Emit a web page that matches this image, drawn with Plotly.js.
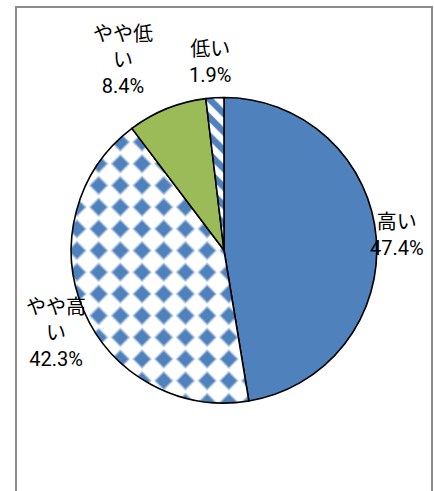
<!DOCTYPE html>
<html><head><meta charset="utf-8">
<script src="https://cdn.plot.ly/plotly-3.0.1.min.js"></script>
<style>html,body{margin:0;padding:0;background:#fff;overflow:hidden}</style>
</head><body><div id="chart" style="width:434px;height:491px"></div>
<script>
// ---- data ----
const categories = ['高い', 'やや高い', 'やや低い', '低い'];
const percentages = [47.4, 42.3, 8.4, 1.9];
const wrappedLabels = ['高い', 'やや高<br>い', 'やや低<br>い', '低い'];

// ---- styles ----
const sliceColors = ['#4F81BD', '#FFFFFF', '#9BBB59', '#FFFFFF'];
const BLUE = '#4F81BD';
const W = 434, H = 491;
const px = x => x / W;
const py = y => 1 - y / H;
// label centres (pixels)
const labelCentres = [[397, 235], [56, 333], [123, 60], [210, 62]];

const annotations = categories.map((c, i) => ({
  xref: 'paper', yref: 'paper',
  x: px(labelCentres[i][0]), y: py(labelCentres[i][1]),
  xanchor: 'center', yanchor: 'middle', align: 'center',
  showarrow: false,
  text: wrappedLabels[i] + '<br>' + percentages[i].toFixed(1) + '%',
  font: {family: "Roboto, 'Noto Sans CJK JP', sans-serif", size: 20, color: '#000'}
}));

const DIAMOND_TILE = 21.7;

const trace = {
  type: 'pie',
  labels: categories,
  values: percentages,
  sort: false,
  direction: 'clockwise',
  rotation: 0,
  textinfo: 'none',
  hoverinfo: 'skip',
  showlegend: false,
  domain: {x: [px(71), px(377)], y: [py(403), py(97.5)]},
  marker: {
    colors: sliceColors,
    line: {color: '#000000', width: 1.6},
    pattern: {
      shape: ['', 'x', '', '\\'],
      fgcolor: [BLUE, '#FFFFFF', '#9BBB59', BLUE],
      bgcolor: [BLUE, BLUE, '#9BBB59', '#FFFFFF'],
      size: [8, 26, 8, 13],
      solidity: [0.2, 0.6, 0.2, 0.5],
      fillmode: 'replace'
    }
  }
};

const layout = {
  width: W, height: H,
  margin: {l: 0, r: 0, t: 0, b: 0},
  paper_bgcolor: '#FFFFFF',
  annotations: annotations,
  shapes: [{
    type: 'rect', xref: 'paper', yref: 'paper', layer: 'below',
    x0: px(16), x1: px(432), y0: -0.1, y1: py(7),
    line: {color: '#8C8C8C', width: 2}, fillcolor: 'rgba(0,0,0,0)'
  }]
};

Plotly.newPlot('chart', [trace], layout, {staticPlot: true, displayModeBar: false}).then(gd => {
  // restyle the diamond pattern tile of the second slice into an aligned "solid diamond" grid
  try {
    const slices = gd.querySelectorAll('g.slice path.surface');
    const s = slices[1];
    if (!s) return;
    const fill = s.style.fill || s.getAttribute('fill') || '';
    const m = fill.match(/#([^"')]+)/);
    if (!m) return;
    const pat = document.getElementById(m[1]);
    if (!pat) return;
    const t = DIAMOND_TILE, c = t / 2, r = 8.8;
    pat.setAttribute('width', t + 'px');
    pat.setAttribute('height', t + 'px');
    pat.setAttribute('patternTransform', 'translate(1,1)');
    const rect = pat.querySelector('rect');
    if (rect) {
      rect.setAttribute('width', t + 'px');
      rect.setAttribute('height', t + 'px');
      rect.style.fill = '#FFFFFF';
    }
    const p = pat.querySelector('path');
    if (p) {
      p.setAttribute('d', `M${c},${c - r}L${c + r},${c}L${c},${c + r}L${c - r},${c}Z`);
      p.setAttribute('stroke', '#A9C1DF');
      p.style.stroke = '#A9C1DF';
      p.setAttribute('stroke-width', '1.4px');
      p.style.strokeWidth = '1.4px';
      p.setAttribute('stroke-linejoin', 'round');
      p.setAttribute('fill', BLUE);
      p.style.fill = BLUE;
      p.style.opacity = 1;
    }
  } catch (e) {}
});
</script></body></html>
